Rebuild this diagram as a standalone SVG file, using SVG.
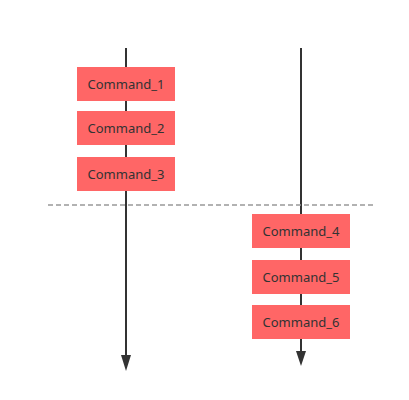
<svg xmlns="http://www.w3.org/2000/svg" width="409" height="400" viewBox="0 0 409 400">
<style>
.box{fill:#ff6666}
.lbl{font-family:"Noto Sans","Open Sans",sans-serif;font-size:13px;fill:#333;text-anchor:middle;dominant-baseline:central}
.tl{stroke:#333;stroke-width:2;fill:none}
</style>
<rect width="409" height="400" fill="#fff"/>
<g id="connectors">
<line class="tl" x1="126" y1="48" x2="126" y2="356"/>
<polygon points="121,355 131,355 126,371" fill="#333"/>
<line class="tl" x1="301" y1="48" x2="301" y2="352"/>
<polygon points="296,351 306,351 301,366" fill="#333"/>
<line x1="48" y1="205" x2="375" y2="205" stroke="#999" stroke-width="1.5" stroke-dasharray="5,3"/>
</g>
<g id="cmd1"><rect class="box" x="77" y="67" width="98" height="34"/><text class="lbl" x="126" y="84">Command_1</text></g>
<g id="cmd2"><rect class="box" x="77" y="111" width="98" height="34"/><text class="lbl" x="126" y="128">Command_2</text></g>
<g id="cmd3"><rect class="box" x="77" y="157" width="98" height="34"/><text class="lbl" x="126" y="174">Command_3</text></g>
<g id="cmd4"><rect class="box" x="252" y="214" width="98" height="34"/><text class="lbl" x="301" y="231">Command_4</text></g>
<g id="cmd5"><rect class="box" x="252" y="260" width="98" height="34"/><text class="lbl" x="301" y="277">Command_5</text></g>
<g id="cmd6"><rect class="box" x="252" y="305" width="98" height="34"/><text class="lbl" x="301" y="322">Command_6</text></g>
</svg>
